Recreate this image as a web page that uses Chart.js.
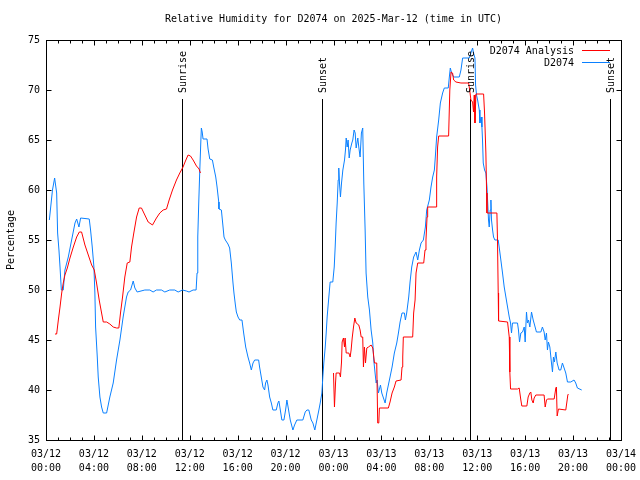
<!DOCTYPE html>
<html>
<head>
<meta charset="utf-8">
<script src="https://cdn.jsdelivr.net/npm/chart.js@4.4.1/dist/chart.umd.min.js"></script>
<style>
  body { margin: 0; background: #fff; }
  #wrap { width: 640px; height: 480px; }
</style>
</head>
<body>
<div id="wrap"><canvas id="canvas" width="640" height="480"></canvas></div>
<script>
// hours since 03/12 00:00 UTC
var xTickLabels = [
  ['03/12', '00:00'], ['03/12', '04:00'], ['03/12', '08:00'], ['03/12', '12:00'],
  ['03/12', '16:00'], ['03/12', '20:00'], ['03/13', '00:00'], ['03/13', '04:00'],
  ['03/13', '08:00'], ['03/13', '12:00'], ['03/13', '16:00'], ['03/13', '20:00'],
  ['03/14', '00:00']
];

var sunHours = [11.36, 23.03, 35.36, 47.06];
var sunLabels = ['Sunrise', 'Sunset', 'Sunrise', 'Sunset'];

// D2074 Analysis (red), null = no analysis
var analysisHours = [
  0.75, 0.89, 1.03, 1.17, 1.31, 1.44, 1.58, 1.78, 2.0, 2.28, 2.56, 2.78, 2.97, 3.25, 3.53, 3.81,
  4.03, 4.22, 4.44, 4.64, 4.78, 5.06, 5.33, 5.61, 5.89, 6.08, 6.22, 6.39, 6.58, 6.78, 7.0, 7.14,
  7.33, 7.56, 7.78, 7.97, 8.25, 8.53, 8.89, 9.22, 9.5, 9.78, 10.06, 10.28, 10.56, 10.89, 11.17,
  11.44, 11.64, 11.86, 12.06, 12.28, 12.56, 12.78, 12.89,
  18,
  24.0, 24.08, 24.17, 24.22, 24.5, 24.58, 24.67, 24.72, 24.83, 24.92, 24.97, 25.06, 25.28, 25.39,
  25.47, 25.56, 25.67, 25.78, 25.89, 26.11, 26.22, 26.31, 26.44, 26.5, 26.58, 26.67, 26.78, 26.92,
  27.14, 27.28, 27.42, 27.61, 27.69, 27.78, 27.83, 28.58, 28.72, 28.89, 29.08, 29.22, 29.64, 29.72,
  29.78, 29.83, 30.61, 30.69, 30.81, 30.89, 31.03, 31.53, 31.64, 31.72, 31.81, 31.86, 32.56, 32.61,
  32.69, 32.78, 33.61, 33.71, 33.81, 33.94, 34.03, 34.22, 34.64, 35.28, 35.39, 35.47, 35.61, 35.69,
  35.75, 35.81, 35.89, 36.53, 36.61, 36.72, 36.78, 36.81, 37.64, 37.69, 37.75, 37.78, 38.53, 38.67,
  38.72, 38.78, 39.36, 39.5, 39.64, 39.72, 40.14, 40.25, 40.39, 40.47, 40.56, 40.67, 40.75, 40.89,
  41.58, 41.67, 41.78, 41.86, 42.42, 42.56, 42.61, 42.67, 42.78, 43.39, 43.47, 43.56, 43.61
];
var analysisRh = [
  45.6, 45.6, 47.0, 48.3, 49.7, 50.7, 51.5, 52.2, 53.2, 54.3, 55.3, 55.8, 55.8, 54.5, 53.5, 52.5,
  52.0, 50.7, 49.0, 47.7, 46.8, 46.8, 46.6, 46.3, 46.2, 46.2, 47.7, 49.3, 51.3, 52.7, 52.8, 54.3,
  55.7, 57.3, 58.2, 58.2, 57.5, 56.8, 56.5, 57.2, 57.7, 58.0, 58.1, 59.0, 60.0, 61.0, 61.7,
  62.3, 62.9, 63.5, 63.4, 63.0, 62.4, 62.1, 61.7,
  null,
  41.7, 38.3, 40.7, 41.7, 41.7, 41.3, 42.8, 44.8, 45.2, 44.3, 45.2, 43.7, 43.7, 43.3,
  44.0, 45.2, 46.3, 47.2, 46.7, 46.5, 46.0, 45.3, 45.3, 42.3, 44.3, 42.7, 44.2, 44.3,
  44.5, 44.2, 42.7, 42.7, 36.7, 36.7, 38.2, 38.2, 38.8, 39.7, 40.3, 40.9, 41.0, 42.3,
  43.3, 45.3, 45.3, 47.7, 49.0, 51.7, 52.7, 52.7, 54.0, 55.0, 57.3, 58.3, 58.3, 61.3,
  64.3, 65.4, 65.4, 70.0, 71.8, 71.7, 71.0, 70.8, 70.7, 70.7, 69.8, 69.0, 68.8, 67.8,
  69.5, 66.7, 69.6, 69.6, 67.7, 63.7, 59.7, 57.7, 57.7, 55.0, 49.7, 46.9, 46.8, 45.3,
  41.8, 40.1, 40.1, 40.2, 39.0, 38.4, 38.4, 39.3, 39.7, 39.8, 39.0, 38.7, 39.2, 39.5,
  39.5, 38.3, 39.0, 39.1, 39.1, 40.2, 40.3, 37.4, 38.1, 38.0, 38.7, 39.5, 39.6
];

// D2074 observations (blue)
var obsHours = [
  0.28, 0.54, 0.72, 0.89, 0.97, 1.08, 1.17, 1.28, 1.44, 1.58, 1.86, 2.14, 2.42, 2.56, 2.75, 2.89,
  3.61, 3.72, 3.86, 4.0, 4.08, 4.14, 4.28, 4.36, 4.5, 4.64, 4.78, 5.06, 5.33, 5.61, 5.89, 6.17,
  6.44, 6.72, 6.86, 7.06, 7.28, 7.42, 7.61, 8.25, 8.67, 8.94, 9.22, 9.64, 9.92, 10.33, 10.75,
  11.03, 11.39, 11.72, 11.94, 12.28, 12.53, 12.61, 12.67, 12.75, 12.83, 12.92, 12.97, 13.04,
  13.11, 13.44, 13.53, 13.67, 13.89, 14.0, 14.17, 14.28, 14.42, 14.44, 14.64, 14.78, 14.86,
  14.97, 15.19, 15.33, 15.47, 15.61, 15.69, 15.81, 15.89, 16.03, 16.17, 16.36, 16.5, 16.67,
  16.86, 17.0, 17.14, 17.28, 17.42, 17.75, 17.83, 17.97, 18.11, 18.25, 18.33, 18.44, 18.53,
  18.67, 18.81, 18.94, 19.22, 19.36, 19.44, 19.56, 19.69, 19.86, 20.0, 20.11, 20.25, 20.39,
  20.61, 20.75, 20.94, 21.44, 21.64, 21.78, 21.94, 22.14, 22.28, 22.44, 22.61, 22.78, 22.89,
  23.03, 23.11, 23.19, 23.31, 23.39, 23.47, 23.61, 23.72, 23.94, 24.06, 24.14, 24.22, 24.31,
  24.39, 24.44, 24.5, 24.58, 24.67, 24.78, 24.92, 25.0, 25.06, 25.14, 25.22, 25.31, 25.39,
  25.53, 25.61, 25.72, 25.81, 25.89, 26.03, 26.11, 26.22, 26.33, 26.44, 26.53, 26.64, 26.72,
  26.86, 27.0, 27.14, 27.28, 27.36, 27.47, 27.56, 27.64, 27.75, 27.92, 28.03, 28.17, 28.31,
  28.44, 28.58, 28.72, 28.89, 29.08, 29.28, 29.42, 29.56, 29.72, 29.92, 30.0, 30.11, 30.28,
  30.39, 30.53, 30.69, 30.89, 31.03, 31.17, 31.31, 31.5, 31.67, 31.78, 32.0, 32.14, 32.28,
  32.42, 32.5, 32.61, 32.78, 32.92, 33.11, 33.25, 33.58, 33.67, 33.75, 33.86, 34.03, 34.5,
  34.64, 34.78, 35.33, 35.47, 35.61, 35.69, 35.81, 35.86, 35.94, 36.03, 36.17, 36.22, 36.33,
  36.39, 36.44, 36.5, 36.61, 36.72, 36.81, 36.89, 36.94, 37.0, 37.08, 37.14, 37.19, 37.28,
  37.36, 37.47, 37.75, 37.83, 37.97, 38.11, 38.25, 38.39, 38.53, 38.67, 38.78, 38.86, 38.94,
  39.36, 39.44, 39.53, 39.64, 39.78, 39.92, 40.0, 40.11, 40.19, 40.28, 40.39, 40.53, 40.67,
  40.83, 40.94, 41.31, 41.44, 41.58, 41.67, 41.78, 41.86, 41.94, 42.06, 42.17, 42.28, 42.36,
  42.44, 42.56, 42.67, 42.83, 42.97, 43.11, 43.25, 43.39, 43.53, 43.81, 44.08, 44.22, 44.36, 44.72
];
var obsRh = [
  57.0, 60.0, 61.2, 59.7, 55.7, 54.0, 52.3, 50.0, 50.0, 52.0, 53.3, 55.0, 56.7, 57.1, 56.3, 57.2,
  57.1, 56.0, 54.3, 52.3, 49.7, 46.3, 43.3, 41.3, 39.3, 38.3, 37.7, 37.7, 39.3, 40.7, 43.0, 45.0,
  47.3, 49.3, 49.8, 50.0, 50.9, 50.2, 49.8, 50.0, 50.0, 49.8, 50.0, 50.0, 49.8, 50.0, 50.0,
  49.8, 50.0, 49.9, 49.8, 50.0, 50.0, 51.7, 55.3, 58.7, 61.7, 64.7, 66.2, 65.8,
  65.1, 65.1, 64.1, 63.1, 63.0, 62.3, 61.3, 60.3, 58.8, 58.1, 58.0, 56.3, 55.3,
  55.0, 54.6, 54.2, 52.7, 50.7, 49.7, 48.5, 47.8, 47.3, 47.0, 47.0, 45.7, 44.3,
  43.3, 42.7, 42.0, 42.7, 43.0, 43.0, 42.3, 41.3, 40.3, 40.0, 40.7, 41.0, 40.5,
  39.3, 38.7, 38.0, 38.0, 38.7, 38.9, 38.0, 37.0, 37.0, 38.0, 39.0, 38.0, 37.0,
  36.0, 36.5, 37.0, 37.0, 37.8, 38.0, 38.0, 37.0, 36.7, 36.0, 37.0, 38.0, 38.7,
  39.7, 41.3, 42.7, 44.3, 45.7, 47.3, 49.3, 50.8, 50.8, 52.3, 54.3, 56.7, 58.7,
  61.0, 62.2, 60.7, 59.3, 60.7, 62.0, 63.0, 64.0, 65.2, 64.3, 65.0, 63.2, 64.0,
  64.7, 65.0, 66.0, 65.7, 64.2, 65.2, 64.3, 63.3, 65.7, 66.2, 60.7, 56.0, 51.7,
  49.3, 48.0, 46.0, 44.7, 43.0, 41.7, 40.7, 41.0, 39.7, 40.5, 39.7, 39.2, 38.7,
  39.7, 40.5, 41.3, 42.3, 43.7, 44.7, 45.7, 46.8, 47.7, 47.7, 47.0, 47.7, 49.3,
  50.8, 52.3, 53.3, 53.8, 53.0, 54.0, 54.7, 55.0, 56.3, 58.0, 59.0, 60.3, 61.3,
  62.0, 63.3, 65.3, 67.0, 68.7, 69.7, 70.2, 70.2, 71.3, 72.2, 71.7, 71.3, 71.3,
  72.0, 73.2, 73.2, 73.7, 74.2, 73.7, 73.2, 70.5, 69.5, 69.0, 68.0, 66.7, 67.3,
  66.3, 65.0, 62.7, 62.0, 61.7, 60.3, 58.3, 57.0, 56.3, 58.0, 59.0, 57.0, 56.0,
  55.3, 55.0, 55.0, 54.3, 53.0, 51.7, 50.3, 49.3, 48.3, 47.3, 46.7, 45.7, 46.7,
  46.7, 46.0, 44.8, 45.7, 45.8, 46.3, 44.8, 47.8, 46.7, 47.0, 46.3, 47.8, 47.0,
  46.3, 45.8, 45.8, 46.3, 45.8, 45.0, 45.7, 44.0, 44.8, 44.3, 43.0, 41.8, 43.3,
  42.8, 43.8, 42.7, 42.0, 42.0, 42.7, 42.2, 41.7, 40.8, 40.8, 41.0, 40.7, 40.2, 40.0
];

var FONT = '10px "DejaVu Sans Mono"';

function toPoints(xs, ys) {
  return xs.map(function (x, i) { return { x: x, y: ys[i] }; });
}

// frame, inward ticks, sun markers, legend and titles, drawn the gnuplot way
var gnuplotDecor = {
  id: 'gnuplotDecor',
  beforeDatasetsDraw: function (chart) {
    var ctx = chart.ctx, xs = chart.scales.x, ys = chart.scales.y;
    ctx.save();
    ctx.strokeStyle = '#000';
    ctx.lineWidth = 1;
    sunHours.forEach(function (h) {
      var px = Math.round(xs.getPixelForValue(h)) + 0.5;
      ctx.beginPath();
      ctx.moveTo(px, ys.getPixelForValue(69.1));
      ctx.lineTo(px, ys.getPixelForValue(35));
      ctx.stroke();
    });
    ctx.restore();
  },
  afterDraw: function (chart) {
    var ctx = chart.ctx, a = chart.chartArea, xs = chart.scales.x, ys = chart.scales.y;
    var L = Math.round(a.left) + 0.5, R = Math.round(a.right) + 0.5;
    var T = Math.round(a.top) + 0.5, B = Math.round(a.bottom) + 0.5;
    ctx.save();
    ctx.strokeStyle = '#000';
    ctx.lineWidth = 1;
    ctx.strokeRect(L, T, R - L, B - T);

    ctx.beginPath();
    for (var h = 0; h <= 48; h++) {
      var px = Math.round(xs.getPixelForValue(h)) + 0.5;
      var len = (h % 4 === 0) ? 5 : 3;
      ctx.moveTo(px, B); ctx.lineTo(px, B - len);
      ctx.moveTo(px, T); ctx.lineTo(px, T + len);
    }
    for (var v = 35; v <= 75; v += 5) {
      var py = Math.round(ys.getPixelForValue(v)) + 0.5;
      ctx.moveTo(L, py); ctx.lineTo(L + 5, py);
      ctx.moveTo(R, py); ctx.lineTo(R - 5, py);
    }
    ctx.stroke();

    ctx.fillStyle = '#000';
    ctx.font = FONT;

    // sun labels, rotated
    sunHours.forEach(function (h, i) {
      var px = Math.round(xs.getPixelForValue(h)) + 1;
      ctx.save();
      ctx.translate(px, ys.getPixelForValue(69.1) - 6);
      ctx.rotate(-Math.PI / 2);
      ctx.textAlign = 'left';
      ctx.textBaseline = 'middle';
      ctx.fillText(sunLabels[i], 0, 0);
      ctx.restore();
    });

    // title
    ctx.textAlign = 'center';
    ctx.textBaseline = 'middle';
    ctx.fillText('Relative Humidity for D2074 on 2025-Mar-12 (time in UTC)', (a.left + a.right) / 2, 19);

    // y axis title
    ctx.save();
    ctx.translate(11, (a.top + a.bottom) / 2);
    ctx.rotate(-Math.PI / 2);
    ctx.fillText('Percentage', 0, 0);
    ctx.restore();

    // legend
    ctx.textAlign = 'right';
    chart.data.datasets.forEach(function (ds, i) {
      var y = 50 + i * 12;
      ctx.fillStyle = '#000';
      ctx.fillText(ds.label, 574, y + 1);
      ctx.strokeStyle = ds.borderColor;
      ctx.beginPath();
      ctx.moveTo(582, y + 0.5);
      ctx.lineTo(610, y + 0.5);
      ctx.stroke();
    });
    ctx.restore();
  }
};

new Chart(document.getElementById('canvas'), {
  type: 'line',
  data: {
    datasets: [
      {
        label: 'D2074 Analysis',
        data: toPoints(analysisHours, analysisRh),
        borderColor: '#ff0000',
        borderWidth: 1,
        pointRadius: 0,
        tension: 0,
        spanGaps: false
      },
      {
        label: 'D2074',
        data: toPoints(obsHours, obsRh),
        borderColor: '#0a80ff',
        borderWidth: 1,
        pointRadius: 0,
        tension: 0
      }
    ]
  },
  options: {
    responsive: false,
    animation: false,
    layout: { padding: { left: 0, top: 40, right: 19, bottom: 0 } },
    plugins: {
      legend: { display: false },
      title: { display: false },
      tooltip: { enabled: false }
    },
    scales: {
      x: {
        type: 'linear',
        min: 0,
        max: 48,
        grid: { display: false, drawTicks: false },
        border: { display: false },
        ticks: {
          stepSize: 4,
          autoSkip: false,
          maxRotation: 0,
          padding: 7,
          color: '#000',
          font: { family: 'DejaVu Sans Mono', size: 10, lineHeight: 1.4 },
          callback: function (value) { return xTickLabels[Math.round(value / 4)]; }
        },
        afterFit: function (scale) {
          scale.height = 40;
          scale.paddingLeft = 0;
          scale.paddingRight = 0;
        }
      },
      y: {
        min: 35,
        max: 75,
        grid: { display: false, drawTicks: false },
        border: { display: false },
        ticks: {
          stepSize: 5,
          padding: 6,
          color: '#000',
          font: { family: 'DejaVu Sans Mono', size: 10 }
        },
        afterFit: function (scale) { scale.width = 46; }
      }
    }
  },
  plugins: [gnuplotDecor]
});
</script>
</body>
</html>
